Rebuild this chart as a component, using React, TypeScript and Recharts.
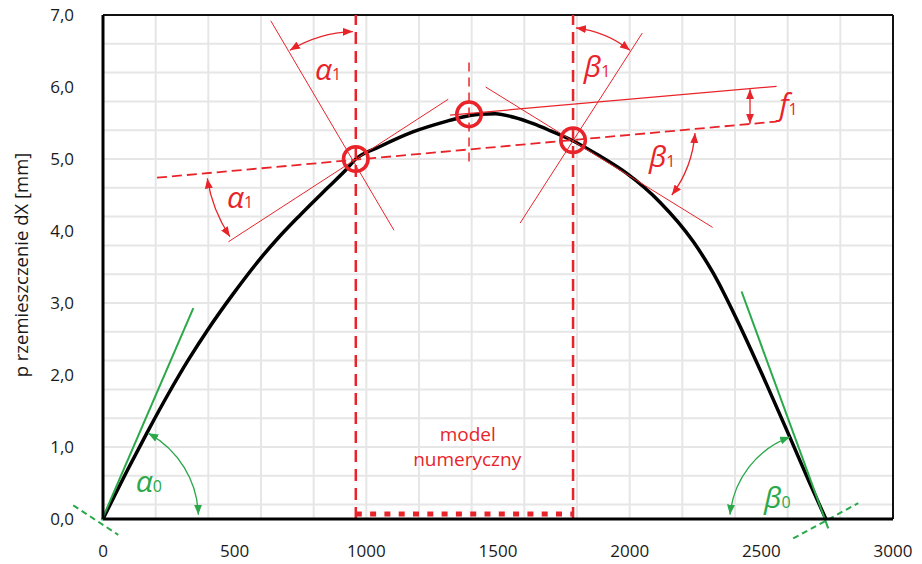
import React from 'react';
import { ComposedChart, Line, XAxis, YAxis, CartesianGrid, ReferenceLine, ReferenceDot } from 'recharts';

// curve: displacement dX [mm] vs position
const xValues = [0, 100, 166, 250, 324, 400, 495, 596, 672, 748, 850, 920, 960, 1050, 1179, 1300, 1362, 1430, 1490, 1560, 1634, 1700, 1786, 1887, 1989, 2115, 2242, 2318, 2356, 2420, 2520, 2609, 2680, 2745];
const dxValues = [0, 0.73, 1.19, 1.75, 2.21, 2.64, 3.13, 3.61, 3.93, 4.22, 4.59, 4.84, 5.0, 5.17, 5.38, 5.52, 5.58, 5.62, 5.63, 5.58, 5.49, 5.39, 5.25, 5.04, 4.8, 4.4, 3.85, 3.41, 3.15, 2.67, 1.87, 1.13, 0.53, 0];

const xTicks = [0, 500, 1000, 1500, 2000, 2500, 3000];
const yTicks = [0, 1, 2, 3, 4, 5, 6, 7];
const gridX = [0,100,200,300,400,500,600,700,800,900,1000,1100,1200,1300,1400,1500,1600,1700,1800,1900,2000,2100,2200,2300,2400,2500,2600,2700,2800,2900,3000];
const gridY = [0,0.2,0.4,0.6,0.8,1,1.2,1.4,1.6,1.8,2,2.2,2.4,2.6,2.8,3,3.2,3.4,3.6,3.8,4,4.2,4.4,4.6,4.8,5,5.2,5.4,5.6,5.8,6,6.2,6.4,6.6,6.8,7];

// annotation geometry in data coordinates
const modelBounds = [960, 1785];
const circlePoints = [
  { x: 960, y: 5.0 },
  { x: 1390, y: 5.62 },
  { x: 1785, y: 5.26 },
];
const chordLine = [{ x: 205, y: 4.74 }, { x: 2558, y: 5.52 }];
const peakTangent = [{ x: 1318, y: 5.61 }, { x: 2558, y: 6.01 }];
const peakAxis = [{ x: 1390, y: 6.34 }, { x: 1390, y: 4.89 }];
const leftTangent = [{ x: 476, y: 3.85 }, { x: 1311, y: 5.83 }];
const leftNormal = [{ x: 637, y: 6.92 }, { x: 1105, y: 4.01 }];
const rightTangent = [{ x: 1453, y: 6.0 }, { x: 2315, y: 4.05 }];
const rightNormal = [{ x: 1584, y: 4.11 }, { x: 2048, y: 6.75 }];
const f1Arrow = [{ x: 2457, y: 5.97 }, { x: 2457, y: 5.49 }];
const modelBar = [{ x: 960, y: 0.07 }, { x: 1785, y: 0.07 }];
const greenLeftTangent = [{ x: -5, y: -0.02 }, { x: 343, y: 2.93 }];
const greenLeftNormal = [{ x: -113, y: 0.19 }, { x: 58, y: -0.22 }];
const greenRightTangent = [{ x: 2425, y: 3.16 }, { x: 2754, y: -0.13 }];
const greenRightNormal = [{ x: 2621, y: -0.27 }, { x: 2868, y: 0.22 }];

const arcAlpha1Top = [{ x: 710, y: 6.51 }, { x: 949, y: 6.77 }];
const arcBeta1Top = [{ x: 1796, y: 6.82 }, { x: 2001, y: 6.51 }];
const arcAlpha1Low = [{ x: 396, y: 4.73 }, { x: 482, y: 3.92 }];
const arcBeta1Low = [{ x: 2248, y: 5.36 }, { x: 2160, y: 4.5 }];
const arcAlpha0 = [{ x: 172, y: 1.19 }, { x: 362, y: 0.06 }];
const arcBeta0 = [{ x: 2381, y: 0.06 }, { x: 2609, y: 1.14 }];

const labelAlpha1Top = { x: 805, y: 6.1 };
const labelBeta1Top = { x: 1826, y: 6.14 };
const labelAlpha1Low = { x: 471, y: 4.32 };
const labelBeta1Low = { x: 2073, y: 4.89 };
const labelF1 = { x: 2568, y: 5.61 };
const labelAlpha0 = { x: 124, y: 0.375 };
const labelBeta0 = { x: 2510, y: 0.153 };
const labelModel = { x: 1385, y: 1.09, text: 'model' };
const labelNumeryczny = { x: 1383, y: 0.73, text: 'numeryczny' };

const data = xValues.map((x, i) => ({ x, y: dxValues[i] }));

const RED = '#e8242a';
const GREEN = '#2aa84a';
const FONT = '"Open Sans", "Noto Sans", sans-serif';

const markerDefs = (id: string, color: string) => (
  <defs>
    <marker id={id} viewBox="0 0 10 8" markerWidth={10} markerHeight={8} refX={10} refY={4} orient="auto-start-reverse" markerUnits="userSpaceOnUse">
      <path d="M0,0 L10,4 L0,8 z" fill={color} />
    </marker>
  </defs>
);

const arcShape = (r: number, sweep: number, color: string) => (p: any) => {
  const id = color === RED ? 'arrRed' : 'arrGreen';
  return (
    <g>
      {markerDefs(id, color)}
      <path
        d={`M${p.x1},${p.y1} A${r},${r} 0 0 ${sweep} ${p.x2},${p.y2}`}
        fill="none"
        stroke={color}
        strokeWidth={1.3}
        markerStart={`url(#${id})`}
        markerEnd={`url(#${id})`}
      />
    </g>
  );
};

const doubleArrow = (color: string) => (p: any) => (
  <g>
    {markerDefs('arrSmall', color)}
    <line x1={p.x1} y1={p.y1} x2={p.x2} y2={p.y2} stroke={color} strokeWidth={1.3} markerStart="url(#arrSmall)" markerEnd="url(#arrSmall)" />
  </g>
);

const greekLabel = (main: string, sub: string, color: string) => (p: any) => (
  <text x={p.cx} y={p.cy} fill={color} fontFamily={FONT} fontSize={30}>
    <tspan fontStyle="italic">{main}</tspan>
    <tspan fontSize={16}>{sub}</tspan>
  </text>
);

const plainLabel = (txt: string) => (p: any) => (
  <text x={p.cx} y={p.cy} fill={RED} fontFamily={FONT} fontSize={19} textAnchor="middle">{txt}</text>
);

const seg = (pts: { x: number; y: number }[]) => [pts[0], pts[1]] as any;

export default function App() {
  return (
    <div style={{ position: 'absolute', left: 0, top: 0 }}>
      <ComposedChart width={922} height={564} data={data} margin={{ top: 15, right: 29, bottom: 0, left: 0 }} style={{ fontFamily: FONT }}>
        <XAxis xAxisId="grid" dataKey="x" type="number" domain={[0, 3000]} ticks={gridX} hide allowDataOverflow />
        <YAxis yAxisId="grid" type="number" domain={[0, 7]} ticks={gridY} hide allowDataOverflow />
        <CartesianGrid xAxisId="grid" yAxisId="grid" stroke="#e6e6e6" strokeWidth={2} />
        <XAxis
          dataKey="x"
          type="number"
          domain={[0, 3000]}
          ticks={xTicks}
          allowDataOverflow
          height={45}
          tickLine={false}
          tickSize={0}
          tickMargin={26}
          axisLine={{ stroke: '#000', strokeWidth: 3 }}
          tick={{ fill: '#1a1a1a', fontSize: 17, fontFamily: FONT }}
        />
        <YAxis
          type="number"
          domain={[0, 7]}
          ticks={yTicks}
          allowDataOverflow
          width={103}
          tickLine={false}
          tickSize={0}
          tickMargin={29}
          axisLine={{ stroke: '#000', strokeWidth: 3 }}
          tick={{ fill: '#1a1a1a', fontSize: 17, fontFamily: FONT }}
          tickFormatter={(v: number) => v.toFixed(1).replace('.', ',')}
          label={{
            content: (props: any) => {
              const vb = props.viewBox || { x: 0, y: 15, width: 103, height: 504 };
              const cx = vb.x + 20;
              const cy = vb.y + vb.height / 2 - 2;
              return (
                <text x={cx} y={cy} transform={`rotate(-90, ${cx}, ${cy})`} textAnchor="middle" dominantBaseline="central" fill="#1a1a1a" fontSize={18.5} fontFamily={FONT}>
                  p rzemieszczenie dX [mm]
                </text>
              );
            },
          }}
        />
        <ReferenceLine y={7} stroke="#111" strokeWidth={2} ifOverflow="visible" />
        <ReferenceLine x={3000} stroke="#111" strokeWidth={2} ifOverflow="visible" />

        <Line dataKey="y" type="monotone" stroke="#000" strokeWidth={3.5} dot={false} isAnimationActive={false} />

        {/* model region */}
        <ReferenceLine x={modelBounds[0]} stroke={RED} strokeWidth={2.5} strokeDasharray="12 7" ifOverflow="visible" />
        <ReferenceLine x={modelBounds[1]} stroke={RED} strokeWidth={2.5} strokeDasharray="12 7" ifOverflow="visible" />
        <ReferenceLine segment={seg(modelBar)} stroke={RED} strokeWidth={5} strokeDasharray="6 8.3" ifOverflow="visible" />

        {/* red construction lines */}
        <ReferenceLine segment={seg(chordLine)} stroke={RED} strokeWidth={1.8} strokeDasharray="10 5" ifOverflow="visible" />
        <ReferenceLine segment={seg(peakTangent)} stroke={RED} strokeWidth={1.3} ifOverflow="visible" />
        <ReferenceLine segment={seg(peakAxis)} stroke={RED} strokeWidth={1.5} strokeDasharray="9 6" ifOverflow="visible" />
        <ReferenceLine segment={seg(leftTangent)} stroke={RED} strokeWidth={1} ifOverflow="visible" />
        <ReferenceLine segment={seg(leftNormal)} stroke={RED} strokeWidth={1} ifOverflow="visible" />
        <ReferenceLine segment={seg(rightTangent)} stroke={RED} strokeWidth={1} ifOverflow="visible" />
        <ReferenceLine segment={seg(rightNormal)} stroke={RED} strokeWidth={1} ifOverflow="visible" />
        <ReferenceLine segment={seg(f1Arrow)} shape={doubleArrow(RED)} ifOverflow="visible" />

        {/* arcs */}
        <ReferenceLine segment={seg(arcAlpha1Top)} shape={arcShape(128, 1, RED)} ifOverflow="visible" />
        <ReferenceLine segment={seg(arcBeta1Top)} shape={arcShape(110, 1, RED)} ifOverflow="visible" />
        <ReferenceLine segment={seg(arcAlpha1Low)} shape={arcShape(148, 0, RED)} ifOverflow="visible" />
        <ReferenceLine segment={seg(arcBeta1Low)} shape={arcShape(118, 1, RED)} ifOverflow="visible" />
        <ReferenceLine segment={seg(arcAlpha0)} shape={arcShape(96, 1, GREEN)} ifOverflow="visible" />
        <ReferenceLine segment={seg(arcBeta0)} shape={arcShape(93, 1, GREEN)} ifOverflow="visible" />

        {/* green tangents */}
        <ReferenceLine segment={seg(greenLeftTangent)} stroke={GREEN} strokeWidth={2} ifOverflow="visible" />
        <ReferenceLine segment={seg(greenLeftNormal)} stroke={GREEN} strokeWidth={2} strokeDasharray="6 4" ifOverflow="visible" />
        <ReferenceLine segment={seg(greenRightTangent)} stroke={GREEN} strokeWidth={2} ifOverflow="visible" />
        <ReferenceLine segment={seg(greenRightNormal)} stroke={GREEN} strokeWidth={2} strokeDasharray="6 4" ifOverflow="visible" />

        {/* circles */}
        {circlePoints.map((c, i) => (
          <ReferenceDot key={i} x={c.x} y={c.y} r={12.3} fill="none" stroke={RED} strokeWidth={3.5} ifOverflow="visible" />
        ))}

        {/* labels */}
        <ReferenceDot x={labelAlpha1Top.x} y={labelAlpha1Top.y} r={1} ifOverflow="visible" shape={greekLabel('α', '1', RED)} />
        <ReferenceDot x={labelBeta1Top.x} y={labelBeta1Top.y} r={1} ifOverflow="visible" shape={greekLabel('β', '1', RED)} />
        <ReferenceDot x={labelAlpha1Low.x} y={labelAlpha1Low.y} r={1} ifOverflow="visible" shape={greekLabel('α', '1', RED)} />
        <ReferenceDot x={labelBeta1Low.x} y={labelBeta1Low.y} r={1} ifOverflow="visible" shape={greekLabel('β', '1', RED)} />
        <ReferenceDot x={labelF1.x} y={labelF1.y} r={1} ifOverflow="visible" shape={greekLabel('f', '1', RED)} />
        <ReferenceDot x={labelAlpha0.x} y={labelAlpha0.y} r={1} ifOverflow="visible" shape={greekLabel('α', '0', GREEN)} />
        <ReferenceDot x={labelBeta0.x} y={labelBeta0.y} r={1} ifOverflow="visible" shape={greekLabel('β', '0', GREEN)} />
        <ReferenceDot x={labelModel.x} y={labelModel.y} r={1} ifOverflow="visible" shape={plainLabel(labelModel.text)} />
        <ReferenceDot x={labelNumeryczny.x} y={labelNumeryczny.y} r={1} ifOverflow="visible" shape={plainLabel(labelNumeryczny.text)} />
      </ComposedChart>
    </div>
  );
}
